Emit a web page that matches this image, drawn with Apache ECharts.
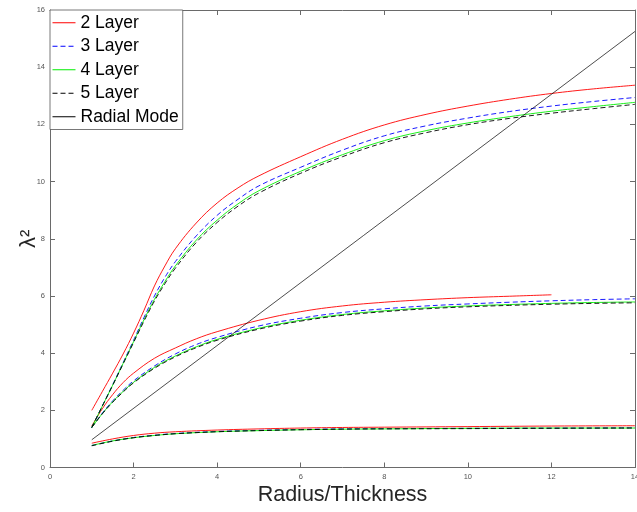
<!DOCTYPE html>
<html>
<head>
<meta charset="utf-8">
<script src="https://cdn.jsdelivr.net/npm/echarts@6/dist/echarts.min.js"></script>
<style>html,body{margin:0;padding:0;background:#fff;}#c{width:637px;height:512px;}</style>
</head>
<body>
<div id="c"></div>
<script>
// ---- data ----
const layerNames = ['2 Layer', '3 Layer', '4 Layer', '5 Layer'];
const radialName = 'Radial Mode';
const xTicks = [0, 2, 4, 6, 8, 10, 12, 14];
const yTicks = [0, 2, 4, 6, 8, 10, 12, 14, 16];

// upper branch
const xUpper = [1, 1.25, 1.5, 1.75, 2, 2.25, 2.5, 2.75, 3, 3.5, 4, 4.5, 5, 6, 7, 8, 9, 10, 11, 12, 13, 14];
const upper2 = [2.00, 2.65, 3.30, 3.97, 4.70, 5.50, 6.35, 7.05, 7.65, 8.55, 9.25, 9.78, 10.20, 10.87, 11.48, 11.98, 12.35, 12.64, 12.88, 13.08, 13.24, 13.37];
const upper3 = [1.40, 2.15, 2.90, 3.67, 4.45, 5.25, 6.00, 6.65, 7.20, 8.10, 8.82, 9.38, 9.85, 10.50, 11.10, 11.60, 11.95, 12.22, 12.45, 12.64, 12.80, 12.94];
const upper4 = [1.40, 2.14, 2.88, 3.64, 4.40, 5.17, 5.88, 6.50, 7.05, 7.95, 8.65, 9.22, 9.68, 10.36, 10.94, 11.43, 11.78, 12.05, 12.27, 12.46, 12.62, 12.77];
const upper5 = [1.40, 2.14, 2.87, 3.62, 4.37, 5.12, 5.82, 6.43, 6.97, 7.87, 8.57, 9.14, 9.60, 10.29, 10.87, 11.36, 11.71, 11.99, 12.21, 12.39, 12.55, 12.70];

// middle branch
const xMiddle = [1, 1.25, 1.5, 1.75, 2, 2.5, 3, 3.5, 4, 5, 6, 7, 8, 9, 10, 11, 12, 13, 14];
const middle2 = [1.45, 2.05, 2.55, 2.97, 3.30, 3.82, 4.18, 4.50, 4.75, 5.15, 5.45, 5.65, 5.78, 5.87, 5.94, 5.99, 6.04];
const middle3 = [1.40, 1.90, 2.33, 2.70, 3.03, 3.55, 3.97, 4.30, 4.55, 4.95, 5.22, 5.42, 5.55, 5.65, 5.72, 5.78, 5.83, 5.87, 5.90];
const middle4 = [1.40, 1.88, 2.30, 2.66, 2.98, 3.50, 3.90, 4.22, 4.48, 4.87, 5.15, 5.35, 5.48, 5.58, 5.65, 5.70, 5.74, 5.77, 5.79];
const middle5 = [1.40, 1.87, 2.28, 2.64, 2.96, 3.47, 3.87, 4.19, 4.45, 4.84, 5.12, 5.32, 5.45, 5.55, 5.62, 5.67, 5.71, 5.74, 5.76];

// lower branch
const xLower = [1, 1.5, 2, 2.5, 3, 4, 5, 6, 7, 8, 10, 12, 14];
const lower2 = [0.85, 1.00, 1.12, 1.20, 1.25, 1.31, 1.35, 1.38, 1.40, 1.41, 1.43, 1.45, 1.46];
const lower3 = [0.77, 0.93, 1.05, 1.13, 1.19, 1.26, 1.30, 1.33, 1.35, 1.36, 1.37, 1.38, 1.39];
const lower4 = [0.77, 0.93, 1.04, 1.12, 1.18, 1.25, 1.29, 1.32, 1.34, 1.35, 1.37, 1.38, 1.38];
const lower5 = [0.76, 0.92, 1.04, 1.12, 1.18, 1.25, 1.29, 1.32, 1.34, 1.35, 1.36, 1.37, 1.38];

// radial mode line
const xRadial = [1, 14];
const radial = [0.97, 15.25];

// ---- build ----
const FONT = '"Liberation Sans", Arial, Helvetica, sans-serif';
const AXIS_COLOR = '#6a6a6a';
const styles = [
  { color: '#ff0000', type: 'solid' },
  { color: '#0000ff', type: [5, 3] },
  { color: '#00ee00', type: 'solid' },
  { color: '#000000', type: [5, 3] }
];
const branches = [
  [xUpper, [upper2, upper3, upper4, upper5]],
  [xMiddle, [middle2, middle3, middle4, middle5]],
  [xLower, [lower2, lower3, lower4, lower5]]
];
function pairs(xs, ys) { return ys.map((y, i) => [xs[i], y]); }

const series = [];
layerNames.forEach((name, li) => {
  branches.forEach(([xs, ysets]) => {
    series.push({
      name: name, type: 'line', symbol: 'none', smooth: 0.4,
      data: pairs(xs, ysets[li]),
      lineStyle: { color: styles[li].color, type: styles[li].type, width: 0.9 },
      itemStyle: { color: styles[li].color },
      emphasis: { disabled: true }, silent: true, z: 2 + li
    });
  });
});
series.push({
  name: radialName, type: 'line', symbol: 'none',
  data: pairs(xRadial, radial),
  lineStyle: { color: '#000', type: 'solid', width: 0.7 },
  itemStyle: { color: '#000' },
  emphasis: { disabled: true }, silent: true, z: 6
});

const axisLine = { show: true, onZero: false, lineStyle: { color: AXIS_COLOR, width: 1 } };
const tick = { show: true, inside: true, length: 5, lineStyle: { color: AXIS_COLOR, width: 1 } };
const tickLabel = { fontSize: 7.5, color: '#555', fontFamily: FONT };

const chart = echarts.init(document.getElementById('c'), null, { renderer: 'canvas' });
chart.setOption({
  animation: false,
  backgroundColor: '#fff',
  grid: { left: 50, right: 2, top: 10, bottom: 44.5, containLabel: false, outerBoundsMode: 'none' },
  legend: {
    orient: 'vertical', left: 50, top: 10,
    itemWidth: 23, itemHeight: 10, itemGap: 4,
    padding: [3, 4, 3, 2],
    itemStyle: { opacity: 0, borderWidth: 0 },
    lineStyle: { width: 1 },
    backgroundColor: '#fff', borderColor: '#555', borderWidth: 0.8, borderRadius: 0,
    textStyle: { fontSize: 17.5, color: '#000', fontFamily: FONT, lineHeight: 19.5 },
    data: layerNames.concat([radialName]),
    selectedMode: false
  },
  xAxis: [
    {
      type: 'value', min: xTicks[0], max: xTicks[xTicks.length - 1], interval: 2, position: 'bottom',
      axisLine: axisLine, axisTick: tick, axisLabel: Object.assign({ margin: 5 }, tickLabel), splitLine: { show: false },
      name: 'Radius/Thickness', nameLocation: 'middle', nameGap: 17, nameMoveOverlap: false,
      nameTextStyle: { fontSize: 21.5, color: '#262626', fontFamily: FONT }
    },
    {
      type: 'value', min: xTicks[0], max: xTicks[xTicks.length - 1], interval: 2, position: 'top',
      axisLine: axisLine, axisTick: tick, axisLabel: { show: false }, splitLine: { show: false }
    }
  ],
  yAxis: [
    {
      type: 'value', min: yTicks[0], max: yTicks[yTicks.length - 1], interval: 2, position: 'left',
      axisLine: axisLine, axisTick: tick, axisLabel: Object.assign({ margin: 5 }, tickLabel), splitLine: { show: false },
      name: 'λ²', nameLocation: 'middle', nameGap: 10, nameRotate: 90, nameMoveOverlap: false,
      nameTextStyle: { fontSize: 22, color: '#262626', fontFamily: FONT }
    },
    {
      type: 'value', min: yTicks[0], max: yTicks[yTicks.length - 1], interval: 2, position: 'right',
      axisLine: axisLine, axisTick: tick, axisLabel: { show: false }, splitLine: { show: false }
    }
  ],
  series: series
});
</script>
</body>
</html>
